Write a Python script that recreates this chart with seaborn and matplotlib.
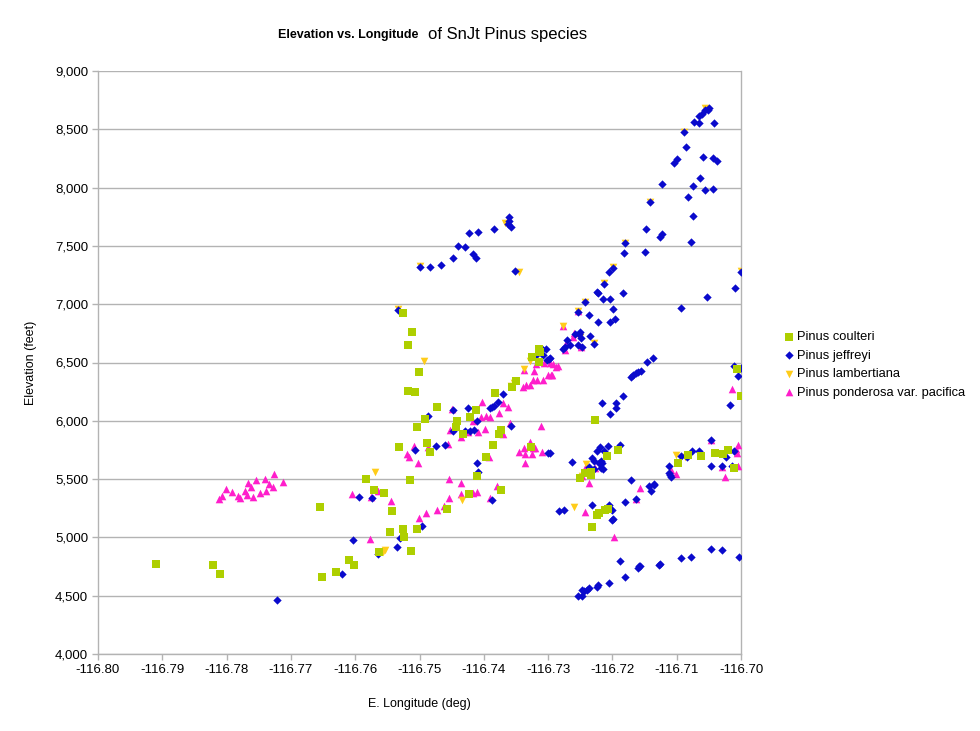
import matplotlib
matplotlib.use("Agg")
import matplotlib.pyplot as plt
import matplotlib.ticker as mticker
import seaborn as sns
import pandas as pd

# ---------------- data ----------------
species_names = ["Pinus coulteri", "Pinus jeffreyi", "Pinus lambertiana",
                 "Pinus ponderosa var. pacifica"]

coulteri_lon = [-116.7910, -116.7821, -116.7810, -116.7655, -116.7652, -116.7630, -116.7610,
                -116.7602, -116.7583, -116.7571, -116.7555, -116.7546, -116.7543, -116.7526,
                -116.7524, -116.7504, -116.7515, -116.7563, -116.7513, -116.7484, -116.7457,
                -116.7526, -116.7512, -116.7518, -116.7501, -116.7518, -116.7507, -116.7473,
                -116.7491, -116.7504, -116.7442, -116.7443, -116.7432, -116.7532, -116.7488,
                -116.7421, -116.7412, -116.7383, -116.7356, -116.7350, -116.7373, -116.7376,
                -116.7386, -116.7397, -116.7314, -116.7313, -116.7325, -116.7314, -116.7327,
                -116.7411, -116.7423, -116.7373, -116.7250, -116.7227, -116.7208, -116.7191,
                -116.7243, -116.7233, -116.7233, -116.7221, -116.7224, -116.7212, -116.7207,
                -116.7232, -116.7006, -116.7000, -116.7082, -116.7062, -116.7040, -116.7028,
                -116.7020, -116.7011, -116.7098]
coulteri_elev = [4772, 4763, 4686, 5261, 4661, 4703, 4806, 4763, 5501, 5407, 5381, 5047, 5227,
                 5072, 5004, 5072, 5492, 4875, 4884, 5733, 5244, 6925, 6762, 6650, 6419, 6256,
                 6247, 6118, 6016, 5947, 5998, 5947, 5887, 5775, 5810, 6033, 6093, 6239, 6290,
                 6341, 5921, 5887, 5793, 5690, 6616, 6590, 6547, 6504, 5775, 5527, 5372, 5407,
                 5510, 6007, 5698, 5750, 5552, 5561, 5535, 5209, 5192, 5235, 5243, 5089, 6444,
                 6213, 5707, 5698, 5724, 5715, 5750, 5595, 5638]

jeffreyi_lon = [-116.7722, -116.7507, -116.7594, -116.7574, -116.7496, -116.7603, -116.7530,
                -116.7535, -116.7565, -116.7621, -116.7533, -116.7370, -116.7378, -116.7384,
                -116.7387, -116.7390, -116.7425, -116.7448, -116.7487, -116.7411, -116.7415,
                -116.7422, -116.7429, -116.7448, -116.7358, -116.7474, -116.7460, -116.7300,
                -116.7310, -116.7303, -116.7308, -116.7302, -116.7299, -116.7320, -116.7499,
                -116.7484, -116.7467, -116.7448, -116.7440, -116.7429, -116.7417, -116.7412,
                -116.7423, -116.7409, -116.7384, -116.7361, -116.7361, -116.7362, -116.7358,
                -116.7352, -116.7411, -116.7409, -116.7263, -116.7387, -116.7283, -116.7275,
                -116.7180, -116.7182, -116.7149, -116.7199, -116.7205, -116.7213, -116.7224,
                -116.7222, -116.7184, -116.7215, -116.7204, -116.7243, -116.7199, -116.7236,
                -116.7222, -116.7204, -116.7196, -116.7254, -116.7235, -116.7229, -116.7250,
                -116.7252, -116.7249, -116.7258, -116.7271, -116.7266, -116.7274, -116.7277,
                -116.7254, -116.7247, -116.7297, -116.7137, -116.7146, -116.7171, -116.7168,
                -116.7163, -116.7160, -116.7156, -116.7184, -116.7216, -116.7194, -116.7194,
                -116.7204, -116.7232, -116.7229, -116.7224, -116.7219, -116.7213, -116.7207,
                -116.7188, -116.7218, -116.7221, -116.7216, -116.7236, -116.7229, -116.7218,
                -116.7215, -116.7171, -116.7143, -116.7135, -116.7140, -116.7163, -116.7180,
                -116.7232, -116.7205, -116.7201, -116.7199, -116.7201, -116.7188, -116.7159,
                -116.7160, -116.7128, -116.7180, -116.7205, -116.7222, -116.7224, -116.7236,
                -116.7240, -116.7244, -116.7247, -116.7247, -116.7254, -116.7297, -116.7050,
                -116.7056, -116.7051, -116.7061, -116.7065, -116.7073, -116.7065, -116.7042,
                -116.7089, -116.7086, -116.7100, -116.7104, -116.7059, -116.7044, -116.7037,
                -116.7064, -116.7075, -116.7056, -116.7044, -116.7123, -116.7083, -116.7142,
                -116.7075, -116.7148, -116.7123, -116.7126, -116.7078, -116.7000, -116.7009,
                -116.7053, -116.7093, -116.7011, -116.7000, -116.7005, -116.7017, -116.7047,
                -116.7076, -116.7065, -116.7093, -116.7084, -116.7023, -116.7011, -116.7112,
                -116.7047, -116.7030, -116.7014, -116.7112, -116.7110, -116.7109, -116.7135,
                -116.7047, -116.7030, -116.7078, -116.7093, -116.7003, -116.7126, -116.7157]
jeffreyi_elev = [4463, 5750, 5347, 5338, 5098, 4978, 4995, 4918, 4858, 4686, 6950, 6230, 6161,
                 6127, 6118, 6110, 6110, 6093, 6041, 5998, 5921, 5913, 5913, 5913, 5956, 5784,
                 5793, 5724, 6616, 6616, 6564, 6522, 6530, 6556, 7319, 7319, 7336, 7396, 7499,
                 7491, 7431, 7396, 7611, 7619, 7645, 7748, 7714, 7688, 7662, 7285, 5638, 5561,
                 5647, 5321, 5227, 5235, 7525, 7439, 7448, 7311, 7276, 7173, 7105, 7096, 7096,
                 7045, 7045, 7019, 6959, 6907, 6847, 6847, 6873, 6933, 6727, 6659, 6762, 6745,
                 6710, 6745, 6693, 6650, 6633, 6616, 6650, 6633, 6539, 6539, 6504, 6376, 6393,
                 6410, 6419, 6427, 6213, 6153, 6153, 6110, 6058, 5681, 5655, 5741, 5775, 5741,
                 5784, 5793, 5655, 5638, 5638, 5604, 5587, 5595, 5587, 5492, 5441, 5450, 5398,
                 5329, 5304, 5278, 5278, 5235, 5158, 5149, 4798, 4755, 4738, 4763, 4661, 4609,
                 4592, 4575, 4566, 4549, 4540, 4549, 4498, 4498, 5724, 8683, 8666, 8666, 8631,
                 8614, 8563, 8554, 8554, 8477, 8348, 8245, 8211, 8262, 8254, 8228, 8082, 8014,
                 7979, 7988, 8031, 7919, 7877, 7756, 7645, 7602, 7576, 7534, 7276, 7139, 7062,
                 6967, 6470, 6453, 6384, 6136, 5835, 5741, 5741, 5698, 5690, 5690, 5741, 5612,
                 5612, 5612, 5612, 5552, 5535, 5518, 5458, 4901, 4892, 4832, 4823, 4832, 4772,
                 4755]

lambertiana_lon = [-116.7569, -116.7554, -116.7557, -116.7533, -116.7493, -116.7328, -116.7338,
                   -116.7358, -116.7353, -116.7314, -116.7499, -116.7367, -116.7345, -116.7434,
                   -116.7260, -116.7254, -116.7277, -116.7180, -116.7199, -116.7213, -116.7243,
                   -116.7229, -116.7250, -116.7241, -116.7247, -116.7056, -116.7089, -116.7142,
                   -116.7000, -116.7101, -116.7087]
lambertiana_elev = [5561, 4892, 4875, 6959, 6513, 6513, 6444, 6299, 6324, 6582, 7328, 7696,
                    7276, 5321, 5261, 6942, 6813, 7525, 7319, 7182, 7019, 6667, 6719, 5630,
                    5527, 8683, 8477, 7877, 7285, 5707, 5690]

ponderosa_lon = [-116.7812, -116.7807, -116.7801, -116.7792, -116.7782, -116.7779, -116.7771,
                 -116.7767, -116.7762, -116.7768, -116.7759, -116.7754, -116.7748, -116.7740,
                 -116.7739, -116.7734, -116.7728, -116.7726, -116.7712, -116.7519, -116.7516,
                 -116.7502, -116.7605, -116.7575, -116.7565, -116.7544, -116.7577, -116.7501,
                 -116.7490, -116.7473, -116.7462, -116.7454, -116.7454, -116.7403, -116.7370,
                 -116.7362, -116.7376, -116.7397, -116.7390, -116.7404, -116.7409, -116.7417,
                 -116.7398, -116.7425, -116.7435, -116.7453, -116.7449, -116.7359, -116.7370,
                 -116.7311, -116.7328, -116.7338, -116.7323, -116.7345, -116.7336, -116.7325,
                 -116.7310, -116.7509, -116.7487, -116.7392, -116.7322, -116.7319, -116.7306,
                 -116.7297, -116.7285, -116.7288, -116.7300, -116.7296, -116.7308, -116.7317,
                 -116.7323, -116.7328, -116.7334, -116.7339, -116.7338, -116.7456, -116.7320,
                 -116.7336, -116.7435, -116.7380, -116.7435, -116.7417, -116.7411, -116.7390,
                 -116.7254, -116.7260, -116.7261, -116.7272, -116.7274, -116.7249, -116.7292,
                 -116.7294, -116.7277, -116.7236, -116.7241, -116.7227, -116.7157, -116.7163,
                 -116.7243, -116.7198, -116.7247, -116.7014, -116.7047, -116.7005, -116.7006,
                 -116.7008, -116.7109, -116.7101, -116.7030, -116.7005, -116.7025]
ponderosa_elev = [5329, 5355, 5415, 5390, 5355, 5338, 5398, 5467, 5432, 5364, 5347, 5492, 5381,
                  5501, 5398, 5458, 5432, 5544, 5475, 5715, 5690, 5638, 5372, 5347, 5398, 5312,
                  4986, 5167, 5209, 5235, 5269, 5501, 5338, 6161, 6153, 6118, 6067, 6041, 6033,
                  6033, 5904, 5998, 5930, 5904, 5861, 5921, 6101, 5981, 5887, 5956, 5818, 5767,
                  5767, 5733, 5715, 5715, 5733, 5784, 5775, 5690, 6427, 6487, 6496, 6496, 6470,
                  6461, 6393, 6393, 6350, 6350, 6350, 6307, 6307, 6290, 6436, 5801, 5767, 5638,
                  5467, 5441, 5372, 5381, 5390, 5338, 6942, 6753, 6719, 6667, 6607, 6633, 6487,
                  6393, 6813, 5467, 5612, 5595, 5424, 5329, 5218, 5004, 5527, 6273, 5835, 5793,
                  5724, 5758, 5578, 5544, 5604, 5612, 5518]

# ---------------- build table ----------------
frames = []
for name, lo, el in zip(species_names,
                        [coulteri_lon, jeffreyi_lon, lambertiana_lon, ponderosa_lon],
                        [coulteri_elev, jeffreyi_elev, lambertiana_elev, ponderosa_elev]):
    frames.append(pd.DataFrame({"lon": lo, "elev": el, "species": name}))
df = pd.concat(frames, ignore_index=True)

palette = {species_names[0]: "#aecf00", species_names[1]: "#0a0acc",
           species_names[2]: "#ffcc1a", species_names[3]: "#ff1ecb"}
markers = {species_names[0]: "s", species_names[1]: "D",
           species_names[2]: "v", species_names[3]: "^"}
sizes = {species_names[0]: 30, species_names[1]: 18,
         species_names[2]: 30, species_names[3]: 30}
layer = {species_names[0]: 6, species_names[1]: 5,
         species_names[2]: 4, species_names[3]: 3}

plt.rcParams["font.family"] = ["Liberation Sans", "DejaVu Sans"]

fig = plt.figure(figsize=(9.8, 7.31), dpi=100)
ax = fig.add_axes([98 / 980, 77 / 731, 643 / 980, 583 / 731])

for name in species_names:
    sub = df[df["species"] == name]
    sns.scatterplot(data=sub, x="lon", y="elev", ax=ax, color=palette[name],
                    marker=markers[name], s=sizes[name], linewidth=0,
                    label=name, zorder=layer[name])

ax.set_xlim(-116.80, -116.70)
ax.set_ylim(4000, 9000)
ax.xaxis.set_major_locator(mticker.MultipleLocator(0.01))
ax.yaxis.set_major_locator(mticker.MultipleLocator(500))
ax.xaxis.set_major_formatter(mticker.FuncFormatter(lambda v, p: f"{v:.2f}"))
ax.yaxis.set_major_formatter(mticker.FuncFormatter(lambda v, p: f"{v:,.0f}"))
ax.grid(axis="y", color="#b3b3b3", linewidth=1)
ax.grid(axis="x", visible=False)
ax.set_axisbelow(True)
for s in ax.spines.values():
    s.set_color("#b3b3b3")
    s.set_linewidth(1)
ax.spines["top"].set_visible(False)
ax.tick_params(axis="both", colors="#b3b3b3", labelcolor="black", labelsize=9.5,
               length=4, width=1, pad=3)
ax.set_xlabel("E. Longitude (deg)", fontsize=9, labelpad=16)
ax.set_ylabel("Elevation (feet)", fontsize=9, labelpad=13)

leg = ax.legend(loc="center left", bbox_to_anchor=(783 / 980, 1 - 365 / 731),
                bbox_transform=fig.transFigure, frameon=False, fontsize=9.3,
                handletextpad=0.15, labelspacing=0.5, handlelength=0.9,
                borderaxespad=0, borderpad=0)

fig.text(418 / 980, 1 - 35 / 731, "Elevation vs. Longitude", ha="right", va="center",
         fontsize=9, fontweight="bold")
fig.text(428 / 980, 1 - 35 / 731, "of SnJt Pinus species", ha="left", va="center",
         fontsize=12)

fig.savefig("out.png", dpi=100)
